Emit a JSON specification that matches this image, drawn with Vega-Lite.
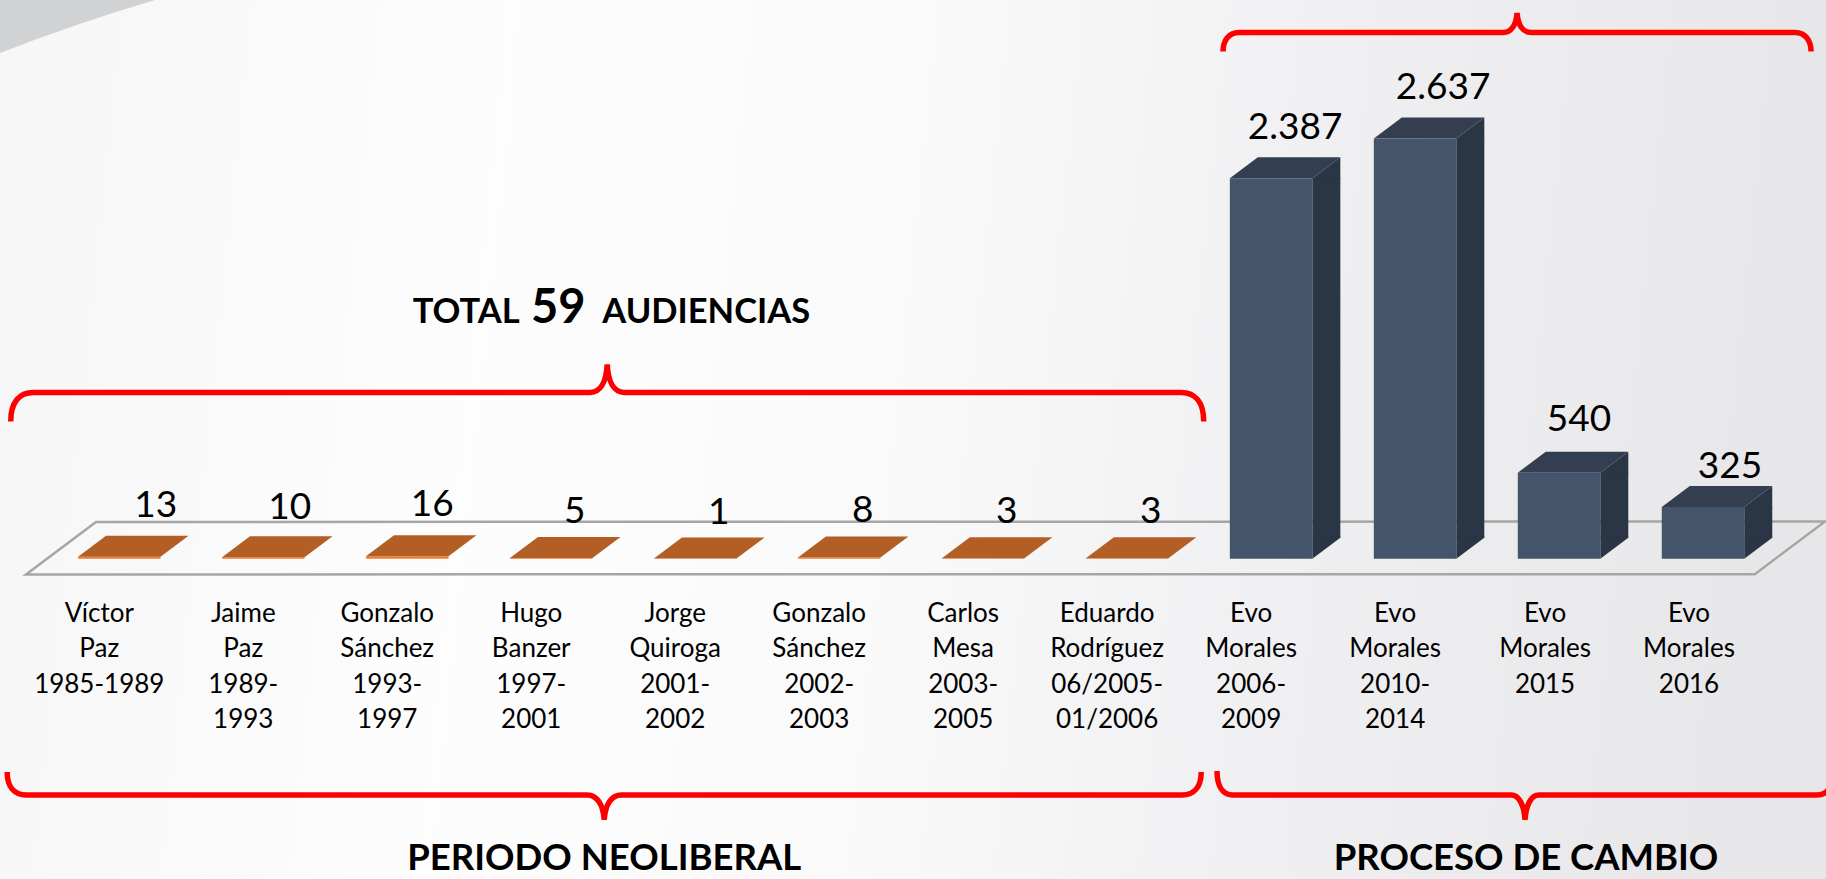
{
"$schema":"https://vega.github.io/schema/vega-lite/v6.json",
"width":1826,"height":879,"autosize":"none","padding":0,"background":"#f6f6f6",
"config":{"view":{"stroke":null},"text":{"font":"Lato","color":"#000000"}},
"datasets":{"barras":[
{"presidente":"Víctor Paz 1985-1989","etiqueta":"Víctor\nPaz\n1985-1989","audiencias":13,"rotulo":"13","periodo":"neoliberal"},
{"presidente":"Jaime Paz 1989-1993","etiqueta":"Jaime\nPaz\n1989-\n1993","audiencias":10,"rotulo":"10","periodo":"neoliberal"},
{"presidente":"Gonzalo Sánchez 1993-1997","etiqueta":"Gonzalo\nSánchez\n1993-\n1997","audiencias":16,"rotulo":"16","periodo":"neoliberal"},
{"presidente":"Hugo Banzer 1997-2001","etiqueta":"Hugo\nBanzer\n1997-\n2001","audiencias":5,"rotulo":"5","periodo":"neoliberal"},
{"presidente":"Jorge Quiroga 2001-2002","etiqueta":"Jorge\nQuiroga\n2001-\n2002","audiencias":1,"rotulo":"1","periodo":"neoliberal"},
{"presidente":"Gonzalo Sánchez 2002-2003","etiqueta":"Gonzalo\nSánchez\n2002-\n2003","audiencias":8,"rotulo":"8","periodo":"neoliberal"},
{"presidente":"Carlos Mesa 2003-2005","etiqueta":"Carlos\nMesa\n2003-\n2005","audiencias":3,"rotulo":"3","periodo":"neoliberal"},
{"presidente":"Eduardo Rodríguez 06/2005-01/2006","etiqueta":"Eduardo\nRodríguez\n06/2005-\n01/2006","audiencias":3,"rotulo":"3","periodo":"neoliberal"},
{"presidente":"Evo Morales 2006-2009","etiqueta":"Evo\nMorales\n2006-\n2009","audiencias":2387,"rotulo":"2.387","periodo":"cambio"},
{"presidente":"Evo Morales 2010-2014","etiqueta":"Evo\nMorales\n2010-\n2014","audiencias":2637,"rotulo":"2.637","periodo":"cambio"},
{"presidente":"Evo Morales 2015","etiqueta":"Evo\nMorales\n2015","audiencias":540,"rotulo":"540","periodo":"cambio"},
{"presidente":"Evo Morales 2016","etiqueta":"Evo\nMorales\n2016","audiencias":325,"rotulo":"325","periodo":"cambio"}
]},
"data":{"name":"barras"},
"encoding":{
"x":{"field":"presidente","type":"nominal","axis":null,"sort":null,
 "scale":{"domain":["Víctor Paz 1985-1989","Jaime Paz 1989-1993","Gonzalo Sánchez 1993-1997","Hugo Banzer 1997-2001","Jorge Quiroga 2001-2002","Gonzalo Sánchez 2002-2003","Carlos Mesa 2003-2005","Eduardo Rodríguez 06/2005-01/2006","Evo Morales 2006-2009","Evo Morales 2010-2014","Evo Morales 2015","Evo Morales 2016"],"range":[47.3,1775],"paddingInner":0.427,"paddingOuter":0.2135}},
"y":{"field":"audiencias","type":"quantitative","axis":null,"stack":null,"scale":{"domain":[-2009.4,3505.6],"nice":false,"zero":false}}
},
"layer":[
{"data":{"values":[{"fondo":"degradado"}]},
 "mark":{"type":"rect","fill":{"gradient":"linear","x1":0,"y1":0,"x2":1,"y2":0.05,"stops":[{"offset":0,"color":"#f6f6f6"},{"offset":0.28,"color":"#fdfdfd"},{"offset":0.5,"color":"#fafafb"},{"offset":0.75,"color":"#efeff1"},{"offset":1,"color":"#e7e7e9"}]}},
 "encoding":{"x":{"value":0},"x2":{"value":1826},"y":{"value":0},"y2":{"value":879}}},
{"transform":[{"filter":"datum.rotulo==='13'"}],
 "mark":{"type":"point","filled":true,"fill":"#d1d2d4","opacity":1,"size":4,"shape":"M-125,-5 L45,-5 L35.7,0 Q-45,24 -119.3,53 L-125,56 Z"},
 "encoding":{"y":{"datum":3505.6}}},
{"transform":[{"filter":"datum.rotulo==='13'"}],
 "mark":{"type":"point","filled":false,"fillOpacity":0,"stroke":"#a6a6a6","strokeWidth":2.5,"opacity":1,"size":4,"shape":"M-23.3,-36.8 L1705.7,-37.2 L1635.5,15.4 L-93.3,15.7 Z"},
 "encoding":{"y":{"datum":0}}},

{"transform":[{"filter":"datum.periodo==='neoliberal'"}],
 "mark":{"type":"bar","fill":"#ed7d31"},
 "encoding":{"y2":{"datum":0}}},
{"transform":[{"filter":"datum.periodo==='neoliberal'"}],
 "mark":{"type":"point","filled":true,"fill":"#b25e24","opacity":1,"size":4,"shape":"M-41.25,0 L41.25,0 L69.25,-21 L-13.25,-21 Z"}},

{"transform":[{"filter":"datum.periodo==='cambio'"}],
 "mark":{"type":"bar","fill":"#2a3645","width":28,"xOffset":55.25},
 "encoding":{"y2":{"datum":132}}},
{"transform":[{"filter":"datum.periodo==='cambio'"}],
 "mark":{"type":"point","filled":true,"fill":"#2a3645","opacity":1,"size":4,"shape":"M41.25,0 L69.25,-21 L69.25,-22 L41.25,-22 Z"},
 "encoding":{"y":{"datum":0}}},
{"transform":[{"filter":"datum.periodo==='cambio'"}],
 "mark":{"type":"point","filled":true,"fill":"#2a3645","opacity":1,"size":4,"shape":"M41.25,1 L41.25,0 L69.25,-21 L69.25,1 Z"}},
{"transform":[{"filter":"datum.periodo==='cambio'"}],
 "mark":{"type":"point","filled":true,"fill":"#333f50","opacity":1,"size":4,"shape":"M-41.25,0 L41.25,0 L69.25,-21 L-13.25,-21 Z"}},
{"transform":[{"filter":"datum.periodo==='cambio'"}],
 "mark":{"type":"bar","fill":"#44546a"},
 "encoding":{"y2":{"datum":0}}},

{"transform":[{"filter":"datum.rotulo==='13'"}],
 "mark":{"type":"text","fontSize":37,"dx":36.5,"dy":-40,"baseline":"alphabetic"},"encoding":{"text":{"field":"rotulo"}}},
{"transform":[{"filter":"datum.rotulo==='16'"}],
 "mark":{"type":"text","fontSize":37,"dx":25,"dy":-40,"baseline":"alphabetic"},"encoding":{"text":{"field":"rotulo"}}},
{"transform":[{"filter":"datum.rotulo==='10'"}],
 "mark":{"type":"text","fontSize":37,"dx":26.5,"dy":-38.5,"baseline":"alphabetic"},"encoding":{"text":{"field":"rotulo"}}},
{"transform":[{"filter":"datum.periodo==='neoliberal'&&datum.audiencias<10"}],
 "mark":{"type":"text","fontSize":37,"dx":23.5,"dy":-35,"baseline":"alphabetic"},"encoding":{"text":{"field":"rotulo"}}},
{"transform":[{"filter":"datum.rotulo==='2.387'"}],
 "mark":{"type":"text","fontSize":37,"dx":24,"dy":-39,"baseline":"alphabetic"},"encoding":{"text":{"field":"rotulo"}}},
{"transform":[{"filter":"datum.rotulo==='2.637'"}],
 "mark":{"type":"text","fontSize":37,"dx":28,"dy":-39,"baseline":"alphabetic"},"encoding":{"text":{"field":"rotulo"}}},
{"transform":[{"filter":"datum.rotulo==='540'"}],
 "mark":{"type":"text","fontSize":37,"dx":20,"dy":-42,"baseline":"alphabetic"},"encoding":{"text":{"field":"rotulo"}}},
{"transform":[{"filter":"datum.rotulo==='325'"}],
 "mark":{"type":"text","fontSize":37,"dx":27,"dy":-28.6,"baseline":"alphabetic"},"encoding":{"text":{"field":"rotulo"}}},

{"transform":[{"filter":"datum.audiencias<2700&&datum.rotulo!=='540'&&datum.rotulo!=='325'"}],
 "mark":{"type":"text","fontSize":26,"lineBreak":"\n","lineHeight":35.5,"dx":-20,"baseline":"alphabetic"},
 "encoding":{"y":{"datum":-396.5},"text":{"field":"etiqueta"}}},
{"transform":[{"filter":"datum.rotulo==='540'||datum.rotulo==='325'"}],
 "mark":{"type":"text","fontSize":26,"lineBreak":"\n","lineHeight":35.5,"dx":-14,"baseline":"alphabetic"},
 "encoding":{"y":{"datum":-396.5},"text":{"field":"etiqueta"}}},

{"transform":[{"filter":"datum.rotulo==='5'"}],
 "mark":{"type":"point","filled":false,"fillOpacity":0,"stroke":"#ff0000","strokeWidth":5.5,"opacity":1,"size":4,"xOffset":56,"shape":"M-596.5,29 C-596.5,10 -588,0 -574,0 L-17,0 C-7,0 -1,-10 0,-28 C1,-10 7,0 17,0 L574,0 C588,0 596.5,10 596.5,29"},
 "encoding":{"y":{"datum":1043.3}}},
{"transform":[{"filter":"datum.rotulo==='540'"}],
 "mark":{"type":"point","filled":false,"fillOpacity":0,"stroke":"#ff0000","strokeWidth":5.5,"opacity":1,"size":4,"xOffset":-42,"shape":"M-294,19 C-294,8 -288,0 -278,0 L-14,0 C-6,0 -1,-7 0,-19.5 C1,-7 6,0 14,0 L278,0 C288,0 294,8 294,19"},
 "encoding":{"y":{"datum":3302}}},
{"transform":[{"filter":"datum.rotulo==='5'"}],
 "mark":{"type":"point","filled":false,"fillOpacity":0,"stroke":"#ff0000","strokeWidth":5.5,"opacity":1,"size":4,"xOffset":53,"shape":"M-597,-23 C-597,-8 -590,0 -578,0 L-17,0 C-7,0 -1,10 0,25 C1,10 7,0 17,0 L578,0 C590,0 597,-8 597,-23"},
 "encoding":{"y":{"datum":-1482}}},
{"transform":[{"filter":"datum.rotulo==='540'"}],
 "mark":{"type":"point","filled":false,"fillOpacity":0,"stroke":"#ff0000","strokeWidth":5.5,"opacity":1,"size":4,"xOffset":-34,"shape":"M-308,-24 C-308,-8 -302,0 -292,0 L-14,0 C-6,0 -1,10 0,25 C1,10 6,0 14,0 L292,0 C302,0 308,-8 308,-24"},
 "encoding":{"y":{"datum":-1482}}},

{"transform":[{"filter":"datum.rotulo==='5'"}],
 "mark":{"type":"text","text":"TOTAL","fontSize":34.5,"fontWeight":"bold","dx":-85,"baseline":"alphabetic"},
 "encoding":{"y":{"datum":1481}}},
{"transform":[{"filter":"datum.rotulo==='5'"}],
 "mark":{"type":"text","text":"59","fontSize":47,"fontWeight":"bold","dx":7,"baseline":"alphabetic"},
 "encoding":{"y":{"datum":1481}}},
{"transform":[{"filter":"datum.rotulo==='5'"}],
 "mark":{"type":"text","text":"AUDIENCIAS","fontSize":34.5,"fontWeight":"bold","dx":155,"baseline":"alphabetic"},
 "encoding":{"y":{"datum":1481}}},
{"transform":[{"filter":"datum.rotulo==='5'"}],
 "mark":{"type":"text","text":"PERIODO NEOLIBERAL","fontSize":36.5,"fontWeight":"bold","dx":53,"baseline":"alphabetic"},
 "encoding":{"y":{"datum":-1952}}},
{"transform":[{"filter":"datum.rotulo==='540'"}],
 "mark":{"type":"text","text":"PROCESO DE CAMBIO","fontSize":36.5,"fontWeight":"bold","dx":-33,"baseline":"alphabetic"},
 "encoding":{"y":{"datum":-1952}}}
]
}
